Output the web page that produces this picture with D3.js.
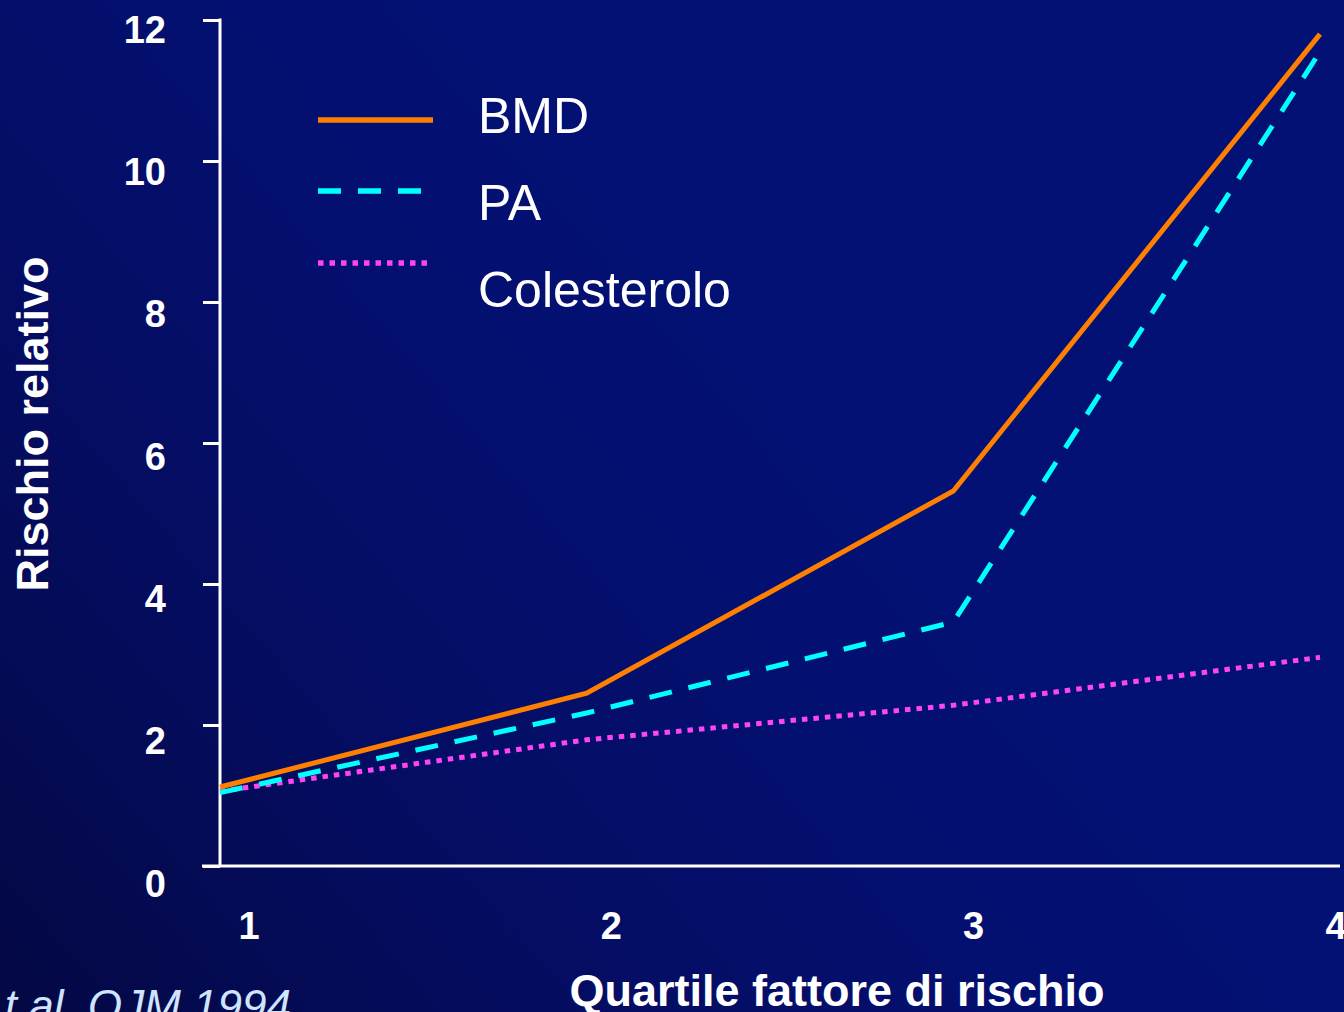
<!DOCTYPE html>
<html>
<head>
<meta charset="utf-8">
<script src="https://cdn.jsdelivr.net/npm/d3@7"></script>
<style>
  html, body { margin: 0; padding: 0; background: #040c5e; }
  svg { display: block; }
</style>
</head>
<body>
<svg id="chart" width="1344" height="1012"></svg>
<script>
// Quartiles of each risk factor and relative risk per series
const quartiles = [1, 2, 3, 4];
const bmd = [1.12, 2.45, 5.32, 11.8];
const pa = [1.04, 2.17, 3.46, 11.55];
const colesterolo = [1.06, 1.79, 2.28, 2.96];
const yTicks = [0, 2, 4, 6, 8, 10, 12];
const seriesNames = ["BMD", "PA", "Colesterolo"];
const yTitle = "Rischio relativo";
const xTitle = "Quartile fattore di rischio";
const citation = "t al. QJM 1994";

const W = 1344, H = 1012;
const svg = d3.select("#chart");

// Background: deep blue, darkening towards the lower-left corner
const defs = svg.append("defs");
const grad = defs.append("linearGradient")
  .attr("id", "bg").attr("gradientUnits", "userSpaceOnUse")
  .attr("x1", 0).attr("y1", 1012).attr("x2", 760).attr("y2", 360);
grad.append("stop").attr("offset", "0").attr("stop-color", "#040844");
grad.append("stop").attr("offset", "0.45").attr("stop-color", "#050d62");
grad.append("stop").attr("offset", "0.8").attr("stop-color", "#041070");
grad.append("stop").attr("offset", "1").attr("stop-color", "#031174");
svg.append("rect").attr("width", W).attr("height", H).attr("fill", "url(#bg)");

// Scales
const x = d3.scaleLinear().domain([1, 4]).range([220, 1320]);
const xLabel = d3.scaleLinear().domain([1, 4]).range([249, 1336]);
const y = d3.scaleLinear().domain([0, 12]).range([866, 20]);
const yLabel = d3.scaleLinear().domain([0, 12]).range([883, 29]);

const font = "'Liberation Sans', Arial, sans-serif";

// Y axis
const yAxis = svg.append("g").attr("transform", "translate(220,0)")
  .call(d3.axisLeft(y).tickValues(yTicks).tickSize(17).tickPadding(37).tickSizeOuter(0));
yAxis.select(".domain").remove();
yAxis.selectAll(".tick line").attr("stroke", "#ffffff").attr("stroke-width", 3);
yAxis.selectAll(".tick text")
  .attr("fill", "#ffffff")
  .attr("font-family", font).attr("font-weight", "bold").attr("font-size", 38)
  .attr("dy", "0.35em")
  .attr("y", d => yLabel(d) - y(d));
yAxis.append("line")
  .attr("x1", 0).attr("x2", 0).attr("y1", y(12) - 1.5).attr("y2", y(0))
  .attr("stroke", "#ffffff").attr("stroke-width", 3);

// X axis baseline
svg.append("line")
  .attr("x1", 202).attr("x2", 1340).attr("y1", y(0)).attr("y2", y(0))
  .attr("stroke", "#ffffff").attr("stroke-width", 3);

// X tick labels
svg.append("g").selectAll("text").data(quartiles).join("text")
  .attr("x", d => xLabel(d)).attr("y", 939)
  .attr("text-anchor", "middle")
  .attr("fill", "#ffffff")
  .attr("font-family", font).attr("font-weight", "bold").attr("font-size", 38)
  .text(d => d);

// Axis titles
svg.append("text")
  .attr("transform", "translate(48,424) rotate(-90)")
  .attr("text-anchor", "middle")
  .attr("fill", "#ffffff")
  .attr("font-family", font).attr("font-weight", "bold").attr("font-size", 45)
  .text(yTitle);

svg.append("text")
  .attr("x", 837).attr("y", 1006)
  .attr("text-anchor", "middle")
  .attr("fill", "#ffffff")
  .attr("font-family", font).attr("font-weight", "bold").attr("font-size", 45)
  .text(xTitle);

// Citation
svg.append("text")
  .attr("x", 291).attr("y", 1021)
  .attr("text-anchor", "end")
  .attr("fill", "#cfe4ff")
  .attr("font-family", font).attr("font-style", "italic").attr("font-size", 44)
  .text(citation);

// Series styles
const styles = [
  { color: "#ff7f00", width: 5, dash: null },
  { color: "#00ffff", width: 5, dash: "23,17" },
  { color: "#ff44f4", width: 5, dash: "5.5,6" }
];
const seriesData = [bmd, pa, colesterolo];

const line = d3.line()
  .x((d, i) => x(quartiles[i]))
  .y(d => y(d));

// Draw back to front so BMD sits on top
[2, 1, 0].forEach(k => {
  svg.append("path")
    .datum(seriesData[k])
    .attr("d", line)
    .attr("fill", "none")
    .attr("stroke", styles[k].color)
    .attr("stroke-width", styles[k].width)
    .attr("stroke-linejoin", "miter")
    .attr("stroke-dasharray", styles[k].dash);
});

// Legend
const legendLineY = [120, 191, 263];
const legendLineEnd = [433, 422, 428];
const legendTextY = [133, 220, 307];
const legend = svg.append("g");
seriesNames.forEach((name, k) => {
  legend.append("line")
    .attr("x1", 318).attr("x2", legendLineEnd[k])
    .attr("y1", legendLineY[k]).attr("y2", legendLineY[k])
    .attr("stroke", styles[k].color)
    .attr("stroke-width", 5.3)
    .attr("stroke-dasharray", styles[k].dash);
  legend.append("text")
    .attr("x", 478).attr("y", legendTextY[k])
    .attr("fill", "#ffffff")
    .attr("font-family", font).attr("font-size", 50)
    .text(name);
});
</script>
</body>
</html>
